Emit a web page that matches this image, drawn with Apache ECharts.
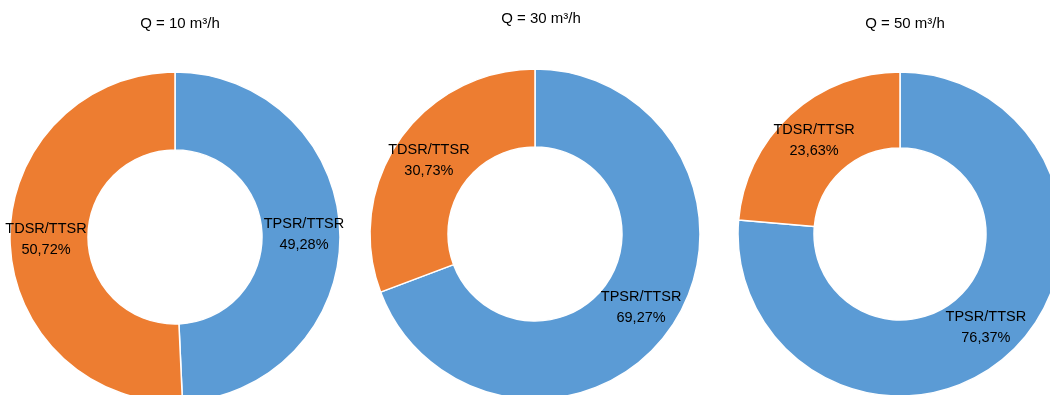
<!DOCTYPE html>
<html>
<head>
<meta charset="utf-8">
<script src="https://cdn.jsdelivr.net/npm/echarts@6/dist/echarts.min.js"></script>
<style>
  html, body { margin: 0; padding: 0; background: #fff; }
  #chart { width: 1050px; height: 395px; }
</style>
</head>
<body>
<div id="chart"></div>
<script>
// Flow rates shown, one donut per flow rate
const flowTitles = ['Q = 10 m³/h', 'Q = 30 m³/h', 'Q = 50 m³/h'];
const categories = ['TPSR/TTSR', 'TDSR/TTSR'];
// Shares (%) for each flow rate, in category order
const shareQ10 = [49.28, 50.72];
const shareQ30 = [69.27, 30.73];
const shareQ50 = [76.37, 23.63];
const shares = [shareQ10, shareQ30, shareQ50];

const colors = ['#5B9BD5', '#ED7D31'];
const FONT = "'Liberation Sans', Arial, sans-serif";

// Layout of each donut: centre, radii and title position
const layout = [
  { cx: 175, cy: 237, r0: 87, r1: 165, tx: 175, ty: 11 },
  { cx: 535, cy: 234, r0: 87, r1: 165, tx: 536, ty: 6 },
  { cx: 900, cy: 234, r0: 86, r1: 162, tx: 900, ty: 11 }
];

const fmt = v => v.toFixed(2).replace('.', ',') + '%';

const chart = echarts.init(document.getElementById('chart'), null, { renderer: 'canvas' });
chart.setOption({
  animation: false,
  color: colors,
  title: layout.map((l, i) => ({
    text: flowTitles[i],
    left: l.tx,
    top: l.ty,
    textAlign: 'center',
    textStyle: { fontFamily: FONT, fontSize: 15, fontWeight: 'normal', color: '#000' }
  })),
  series: layout.map((l, i) => ({
    type: 'pie',
    center: [l.cx, l.cy],
    radius: [l.r0, l.r1],
    startAngle: 90,
    clockwise: true,
    avoidLabelOverlap: false,
    itemStyle: { borderColor: '#fff', borderWidth: 1.5 },
    label: {
      show: true,
      position: 'inside',
      fontFamily: FONT,
      fontSize: 14.5,
      lineHeight: 21,
      color: '#000',
      formatter: p => p.name + '\n' + fmt(p.value)
    },
    labelLine: { show: false },
    emphasis: { disabled: true },
    data: categories.map((c, k) => ({ name: c, value: shares[i][k] }))
  }))
});
</script>
</body>
</html>
